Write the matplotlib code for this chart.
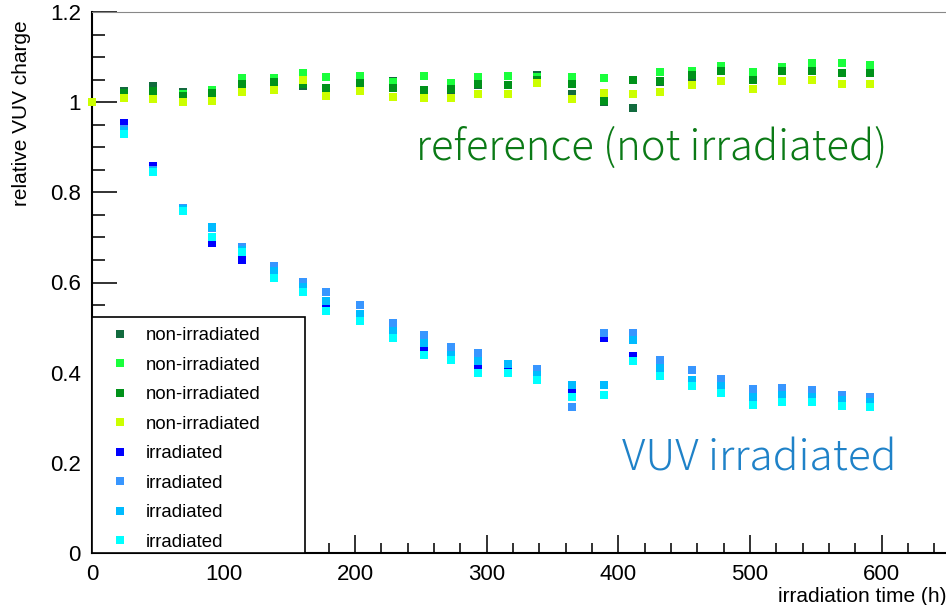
import matplotlib
matplotlib.use("Agg")
import matplotlib.pyplot as plt
from matplotlib.lines import Line2D
from matplotlib.patches import Rectangle

plt.rcParams['font.family'] = ['Liberation Sans', 'DejaVu Sans']

# irradiation time (h)
hours = [0, 24, 46, 69, 91, 114, 138, 160, 178, 204, 229, 252, 273, 293,
         316, 338, 365, 389, 411, 432, 456, 478, 502, 524, 547, 570, 591]

# reference samples (not irradiated)
ref_a = [1.0, 1.025, 1.036, 1.022, 1.02, 1.044, 1.047, 1.035, 1.03, 1.042, 1.047, 1.025, 1.027, 1.038,
         1.038, 1.06, 1.019, 1.0, 0.988, 1.044, 1.056, 1.07, 1.052, 1.07, 1.07, 1.064, 1.064]
ref_b = [1.0, 1.02, 1.025, 1.018, 1.028, 1.053, 1.053, 1.064, 1.055, 1.058, 1.045, 1.058, 1.043, 1.056,
         1.058, 1.055, 1.055, 1.053, 1.05, 1.067, 1.07, 1.08, 1.068, 1.077, 1.087, 1.087, 1.082]
ref_c = [1.0, 1.02, 1.025, 1.014, 1.02, 1.04, 1.045, 1.04, 1.031, 1.042, 1.031, 1.027, 1.03, 1.04,
         1.038, 1.05, 1.04, 1.002, 1.05, 1.048, 1.06, 1.07, 1.05, 1.07, 1.07, 1.064, 1.064]
ref_d = [1.0, 1.01, 1.007, 1.0, 1.003, 1.023, 1.028, 1.05, 1.014, 1.025, 1.012, 1.01, 1.01, 1.018,
         1.018, 1.042, 1.007, 1.02, 1.019, 1.023, 1.038, 1.047, 1.03, 1.047, 1.05, 1.04, 1.04]

# VUV irradiated samples
irr_a = [1.0, 0.953, 0.858, 0.762, 0.687, 0.651, 0.62, 0.585, 0.553, 0.524, 0.49, 0.455, 0.435, 0.415,
         0.41, 0.396, 0.359, 0.476, 0.436, 0.404, 0.38, 0.365, 0.345, 0.35, 0.345, 0.34, 0.335]
irr_b = [1.0, 0.94, 0.85, 0.766, 0.72, 0.678, 0.636, 0.602, 0.578, 0.551, 0.511, 0.484, 0.458, 0.444,
         0.42, 0.409, 0.324, 0.488, 0.489, 0.429, 0.405, 0.386, 0.364, 0.366, 0.361, 0.351, 0.347]
irr_c = [1.0, 0.935, 0.848, 0.762, 0.722, 0.672, 0.625, 0.59, 0.56, 0.53, 0.492, 0.465, 0.44, 0.425,
         0.42, 0.395, 0.373, 0.372, 0.473, 0.41, 0.384, 0.37, 0.347, 0.351, 0.345, 0.34, 0.336]
irr_d = [1.0, 0.929, 0.845, 0.758, 0.70, 0.667, 0.611, 0.578, 0.536, 0.514, 0.477, 0.439, 0.429, 0.40,
         0.40, 0.383, 0.347, 0.35, 0.425, 0.392, 0.371, 0.355, 0.329, 0.336, 0.334, 0.327, 0.324]

ref_series = [ref_a, ref_b, ref_c, ref_d]
ref_colors = ['#126b3e', '#1aff3c', '#00921a', '#ccff00']
irr_series = [irr_a, irr_b, irr_c, irr_d]
irr_colors = ['#0000ff', '#3896ff', '#00bbff', '#00ffff']

fig = plt.figure(figsize=(9.46, 6.05), dpi=100)
ax = fig.add_axes([92 / 946, 1 - 553 / 605, (946 - 92) / 946, 541 / 605])

for vals, col in zip(irr_series, irr_colors):
    ax.plot(hours, vals, ls='none', marker='s', ms=5.8, mew=0, color=col, zorder=2, clip_on=False)
for vals, col in zip(ref_series, ref_colors):
    ax.plot(hours, vals, ls='none', marker='s', ms=5.8, mew=0, color=col, zorder=3, clip_on=False)

ax.set_xlim(0, 649)
ax.set_ylim(0, 1.2)
ax.set_xticks([0, 100, 200, 300, 400, 500, 600])
ax.set_xticks(range(0, 650, 20), minor=True)
ax.set_yticks([0, 0.2, 0.4, 0.6, 0.8, 1.0, 1.2])
ax.set_yticklabels(['0', '0.2', '0.4', '0.6', '0.8', '1', '1.2'])
ax.set_yticks([i * 0.05 for i in range(25)], minor=True)
ax.tick_params(which='both', direction='in', labelsize=16, width=1.3, color='#222222')
ax.tick_params(axis='x', which='major', length=13.3, pad=8)
ax.tick_params(axis='x', which='minor', length=7.2)
ax.tick_params(axis='y', which='major', length=18, pad=8)
ax.tick_params(axis='y', which='minor', length=9.4)
ax.spines['right'].set_visible(False)
ax.spines['top'].set_color('#888888')
for s in ['left', 'bottom']:
    ax.spines[s].set_linewidth(1.5)

ax.set_xlabel('irradiation time (h)', fontsize=15, loc='right', labelpad=1)
ax.set_ylabel('relative VUV charge', fontsize=15, loc='top')
ax.yaxis.set_label_coords(-0.072, 0.985)

ax.text(246, 0.873, 'reference (not irradiated)', color='#0b7a16', fontsize=30.1,
        family=['Noto Sans CJK JP', 'DejaVu Sans'], fontweight='light')
ax.text(403, 0.184, 'VUV irradiated', color='#1f82c8', fontsize=30.6,
        family=['Noto Sans CJK JP', 'DejaVu Sans'], fontweight='light')

# legend box drawn by hand, entries by legend
ax.add_patch(Rectangle((0, 0), 213 / 854, 236 / 541, transform=ax.transAxes,
                       facecolor='white', edgecolor='black', lw=1.2, zorder=5))
handles = [Line2D([], [], ls='none', marker='s', ms=5.8, mew=0, color=c)
           for c in ref_colors + irr_colors]
labels = ['non-irradiated'] * 4 + ['irradiated'] * 4
leg = ax.legend(handles, labels, loc='upper left', bbox_to_anchor=(0.005, 0.441),
                frameon=False, fontsize=13.4, handlelength=1.2, handletextpad=0.75,
                labelspacing=0.67, borderpad=0.2)
leg.set_zorder(6)

fig.savefig('out.png', dpi=100)
